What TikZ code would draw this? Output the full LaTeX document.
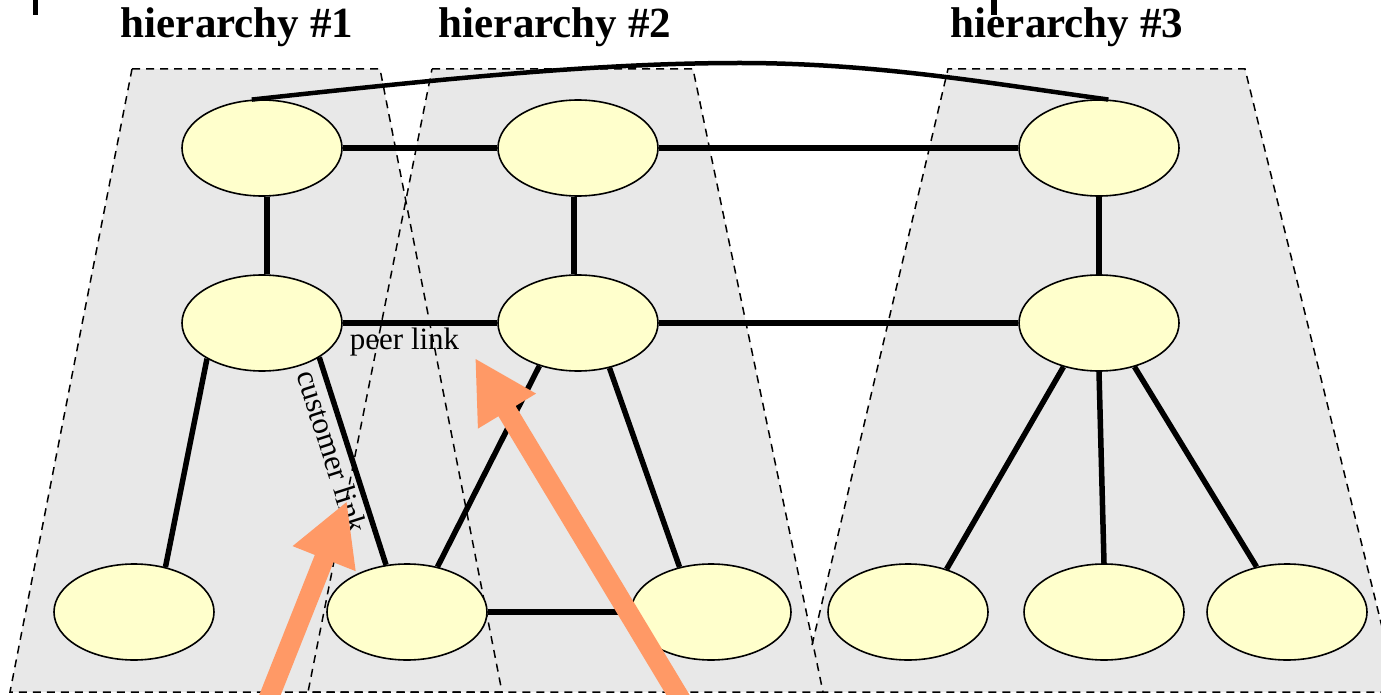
\documentclass[tikz,border=0pt]{standalone}
\usepackage{fontspec}
\setmainfont{Liberation Serif}
\usetikzlibrary{arrows.meta,shapes.geometric}
\definecolor{regiongray}{HTML}{E8E8E8}
\definecolor{nodefill}{HTML}{FFFFCC}
\definecolor{flowcolor}{HTML}{FF9966}
\tikzset{
  region/.style={fill=regiongray, draw=none},
  regionedge/.style={draw=black, line width=1.5pt, dash pattern=on 8pt off 6pt},
  asnode/.style={ellipse, draw=black, line width=1.6pt, fill=nodefill,
    minimum width=160pt, minimum height=96pt, inner sep=0pt},
  link/.style={draw=black, line width=5.5pt},
  flow/.style={draw=flowcolor, line width=20pt,
    -{Triangle[width=63pt,length=62pt]}},
  title/.style={font=\bfseries\fontsize{43}{46}\selectfont, anchor=base},
  linklabel/.style={font=\fontsize{31}{34}\selectfont, inner sep=1pt},
}
\begin{document}
\begin{tikzpicture}[x=1pt, y=-1pt]
\useasboundingbox (0,0) rectangle (1381,695);
\clip (0,0) rectangle (1381,695);

% shaded hierarchy regions
\fill[region] (132,69) -- (380,69) -- (502,692) -- (10,692) -- cycle;
\fill[region] (432,69) -- (693,69) -- (823,692) -- (308,692) -- cycle;
\fill[region] (948,69) -- (1245,69) -- (1398,692) -- (823,692) -- (812,645) -- cycle;
\draw[regionedge] (132,69) -- (380,69) -- (502,692) -- (10,692) -- cycle;
\draw[regionedge] (432,69) -- (693,69) -- (823,692) -- (308,692) -- cycle;
\draw[regionedge] (812,645) -- (948,69) -- (1245,69) -- (1398,692) -- (823,692);

% short marks along the top border
\draw[line width=5pt] (35.5,0) -- (35.5,15);
\draw[line width=6pt] (993.5,0) -- (993.5,15);

% titles
\node[title] (t1) at (237,38) {hierarchy \#1};
\node[title] (t2) at (555,38) {hierarchy \#2};
\node[title] (t3) at (1067,38) {hierarchy \#3};

% nodes
\node[asnode] (h1t) at (262,148) {};
\node[asnode] (h1m) at (262,323) {};
\node[asnode] (h1b) at (134,612) {};
\node[asnode] (h2t) at (578,148) {};
\node[asnode] (h2m) at (578,323) {};
\node[asnode] (h2bl) at (407,612) {};
\node[asnode] (h2br) at (711,612) {};
\node[asnode] (h3t) at (1099,148) {};
\node[asnode] (h3m) at (1099,323) {};
\node[asnode] (h3b1) at (908,612) {};
\node[asnode] (h3b2) at (1104,612) {};
\node[asnode] (h3b3) at (1287,612) {};

% links
\draw[link] (h1t) -- (h2t);
\draw[link] (h2t) -- (h3t);
\draw[link] (h1m) -- node[linklabel, pos=0.40, below=1pt] (peer) {peer link} (h2m);
\draw[link] (h2m) -- (h3m);
\draw[link] ([xshift=5pt]h1t.south) -- ([xshift=5pt]h1m.north);
\draw[link] ([xshift=-4pt]h2t.south) -- ([xshift=-4pt]h2m.north);
\draw[link] (h3t) -- (h3m);
\draw[link] (h1m.213) -- (h1b.55);
\draw[link] (h1m.329) -- node[linklabel, pos=0.43, sloped, below=2pt] (cust) {customer link} (h2bl.114);
\draw[link] (h2m.228) -- (h2bl.56);
\draw[link] (h2m.305) -- (h2br.125);
\draw[link] (h2bl) -- (h2br);
\draw[link] (h3m.231) -- (h3b1.48);
\draw[link] (h3m.south) -- (h3b2.north);
\draw[link] (h3m.309) -- (h3b3.124);

% long link across the top
\draw[link, line width=4.5pt] (h1t.102) .. controls (450,78) and (600,63) .. (740,63)
  .. controls (880,63) and (1000,85) .. (h3t.79);

% traffic arrows
\coordinate (f1s) at (268,700);
\coordinate (f1e) at (347,501);
\coordinate (f2s) at (681,700);
\coordinate (f2e) at (475,358);
\draw[flow] (f1s) -- (f1e);
\draw[flow] (f2s) -- (f2e);
\end{tikzpicture}
\end{document}
